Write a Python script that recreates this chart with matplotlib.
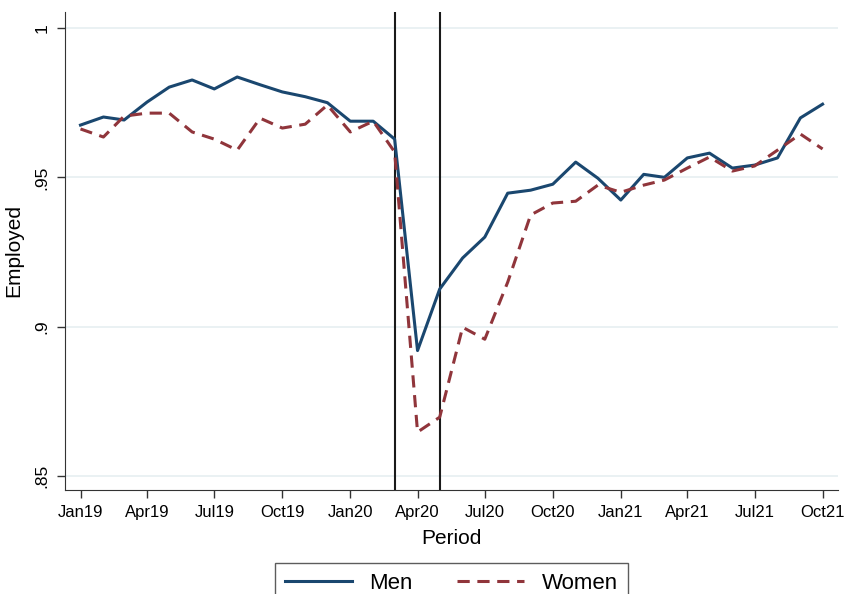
import matplotlib
matplotlib.use("Agg")
import matplotlib.pyplot as plt
import numpy as np
import pandas as pd

plt.rcParams["font.family"] = ["Liberation Sans", "DejaVu Sans"]

months = pd.date_range("2019-01-01", periods=34, freq="MS")
men = [0.9675, 0.9702, 0.9692, 0.9752, 0.9802, 0.9826, 0.9796, 0.9836, 0.9810, 0.9786,
       0.9770, 0.9750, 0.9688, 0.9688, 0.9628, 0.8920, 0.9126, 0.9230, 0.9300, 0.9447,
       0.9457, 0.9477, 0.9551, 0.9497, 0.9424, 0.9510, 0.9500, 0.9565, 0.9581, 0.9531,
       0.9541, 0.9565, 0.9699, 0.9745]
women = [0.9662, 0.9635, 0.9705, 0.9715, 0.9715, 0.9652, 0.9628, 0.9591, 0.9698, 0.9665,
         0.9678, 0.9742, 0.9652, 0.9688, 0.9585, 0.8647, 0.8697, 0.8998, 0.8958, 0.9149,
         0.9374, 0.9414, 0.9420, 0.9474, 0.9450, 0.9474, 0.9491, 0.9531, 0.9568, 0.9521,
         0.9538, 0.9591, 0.9645, 0.9595]
events = pd.to_datetime(["2020-03-01", "2020-05-01"])
yticks = [0.85, 0.9, 0.95, 1.0]
ytick_labels = [".85", ".9", ".95", "1"]

fig = plt.figure(figsize=(8.44, 5.94), dpi=100)
ax = fig.add_axes([0.077, 0.175, 0.916, 0.805])

for y in yticks:
    ax.axhline(y, color="#e6eff1", lw=1.2, zorder=0)
ax.plot(months, men, color="#1a476f", lw=2.2, label="Men", zorder=3)
ax.plot(months, women, color="#90353b", lw=2.2, ls=(0, (4, 2.5)), label="Women", zorder=3)
for d in events:
    ax.axvline(d, color="#1a1a1a", lw=1.5, zorder=2)

ax.set_xlim(pd.Timestamp("2018-12-11"), pd.Timestamp("2021-10-22"))
ax.set_ylim(0.8453, 1.0054)
ax.set_yticks(yticks)
ax.set_yticklabels(ytick_labels, rotation=90, va="center", fontsize=12.5)
xt = months[::3]
ax.set_xticks(xt)
ax.set_xticklabels([d.strftime("%b%y") for d in xt], fontsize=12)
ax.tick_params(direction="out", length=6, width=1, color="#333333", pad=5)
for s in ["top", "right"]:
    ax.spines[s].set_visible(False)
for s in ["left", "bottom"]:
    ax.spines[s].set_color("#333333")
ax.set_xlabel("Period", fontsize=15, labelpad=6)
ax.set_ylabel("Employed", fontsize=15, labelpad=8)

leg = fig.legend(loc="lower center", bbox_to_anchor=(0.535, -0.035), ncol=2, fontsize=16,
                 fancybox=False, edgecolor="#333333", handlelength=3.0, columnspacing=2.0,
                 borderpad=0.45)
leg.get_frame().set_linewidth(1.0)

fig.savefig("out.png", dpi=100)
